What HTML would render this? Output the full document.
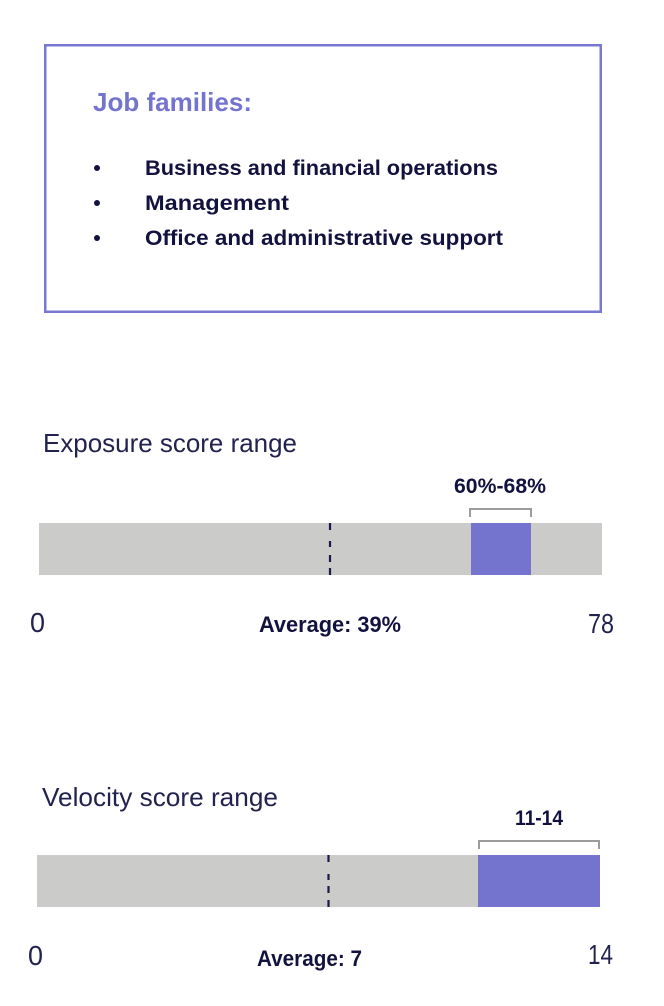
<!DOCTYPE html>
<html>
<head>
<meta charset="utf-8">
<style>
  html, body { margin: 0; padding: 0; background: #ffffff; }
  body { width: 664px; height: 1006px; overflow: hidden; }
  svg { display: block; }
  text { font-family: "Liberation Sans", Arial, sans-serif; }
</style>
</head>
<body>
<svg width="664" height="1006" viewBox="0 0 664 1006" xmlns="http://www.w3.org/2000/svg">
  <rect x="0" y="0" width="664" height="1006" fill="#ffffff"/>

  <!-- Job families box -->
  <rect x="45.25" y="45.25" width="555.5" height="266.5" fill="none" stroke="#7878d0" stroke-width="2.5"/>
  <text x="93" y="111" font-size="26" font-weight="bold" fill="#7474cf" textLength="159" lengthAdjust="spacingAndGlyphs">Job families:</text>

  <circle cx="97" cy="168" r="3" fill="#12123f"/>
  <circle cx="97" cy="203" r="3" fill="#12123f"/>
  <circle cx="97" cy="238" r="3" fill="#12123f"/>
  <text x="145" y="175" font-size="21.5" font-weight="bold" fill="#12123f" textLength="353" lengthAdjust="spacingAndGlyphs">Business and financial operations</text>
  <text x="145" y="210" font-size="21.5" font-weight="bold" fill="#12123f" textLength="144" lengthAdjust="spacingAndGlyphs">Management</text>
  <text x="145" y="245" font-size="21.5" font-weight="bold" fill="#12123f" textLength="358" lengthAdjust="spacingAndGlyphs">Office and administrative support</text>

  <!-- Exposure chart -->
  <text x="43" y="452" font-size="26" fill="#22224f" textLength="254" lengthAdjust="spacingAndGlyphs">Exposure score range</text>
  <text x="454" y="493" font-size="21" font-weight="bold" fill="#12123f" textLength="92" lengthAdjust="spacingAndGlyphs">60%-68%</text>
  <polyline points="470,517 470,509 531,509 531,517" fill="none" stroke="#9c9c9c" stroke-width="2"/>
  <rect x="39" y="523" width="563" height="52" fill="#cbcbc9"/>
  <rect x="471" y="523" width="60" height="52" fill="#7474cf"/>
  <g stroke="#1a1a4e" stroke-width="2.2">
    <line x1="330" y1="523" x2="330" y2="530"/>
    <line x1="330" y1="541" x2="330" y2="547"/>
    <line x1="330" y1="555" x2="330" y2="562"/>
    <line x1="330" y1="568" x2="330" y2="575"/>
  </g>
  <text x="30" y="632" font-size="28" fill="#22224f" textLength="15" lengthAdjust="spacingAndGlyphs">0</text>
  <text x="259" y="632" font-size="22" font-weight="bold" fill="#12123f" textLength="142" lengthAdjust="spacingAndGlyphs">Average: 39%</text>
  <text x="588" y="633" font-size="28" fill="#22224f" textLength="26" lengthAdjust="spacingAndGlyphs">78</text>

  <!-- Velocity chart -->
  <text x="42" y="806" font-size="26" fill="#22224f" textLength="236" lengthAdjust="spacingAndGlyphs">Velocity score range</text>
  <text x="515" y="825" font-size="21" font-weight="bold" fill="#12123f" textLength="48" lengthAdjust="spacingAndGlyphs">11-14</text>
  <polyline points="479,849 479,841 599,841 599,849" fill="none" stroke="#9c9c9c" stroke-width="2"/>
  <rect x="37" y="855" width="563" height="52" fill="#cbcbc9"/>
  <rect x="478" y="855" width="122" height="52" fill="#7474cf"/>
  <g stroke="#1a1a4e" stroke-width="2.2">
    <line x1="328.5" y1="855" x2="328.5" y2="862"/>
    <line x1="328.5" y1="874" x2="328.5" y2="880"/>
    <line x1="328.5" y1="886" x2="328.5" y2="893"/>
    <line x1="328.5" y1="900" x2="328.5" y2="907"/>
  </g>
  <text x="28" y="965" font-size="28" fill="#22224f" textLength="15" lengthAdjust="spacingAndGlyphs">0</text>
  <text x="257" y="966" font-size="22" font-weight="bold" fill="#12123f" textLength="105" lengthAdjust="spacingAndGlyphs">Average: 7</text>
  <text x="588" y="964" font-size="28" fill="#22224f" textLength="25" lengthAdjust="spacingAndGlyphs">14</text>
</svg>
</body>
</html>
